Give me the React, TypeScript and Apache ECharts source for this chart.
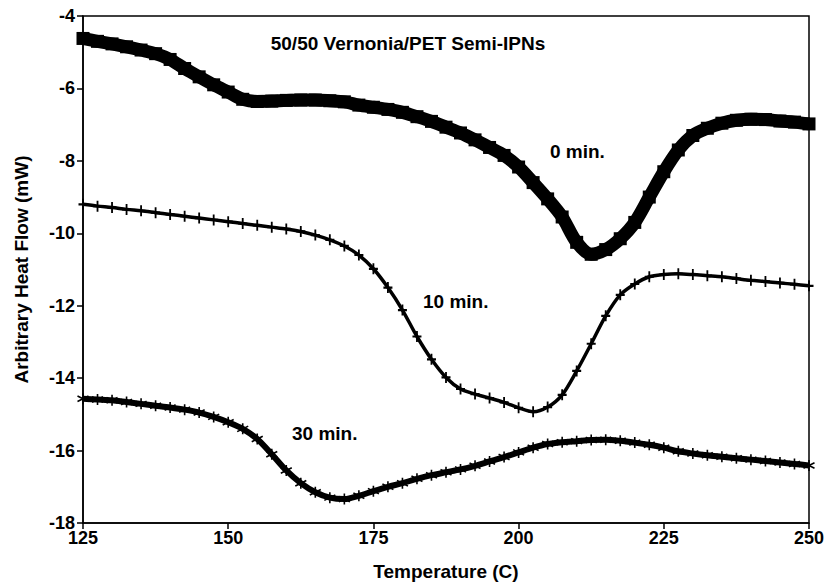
import React, { useEffect, useRef } from "react";
import * as echarts from "echarts";

// Temperature grid, °C (2.5 °C steps)
const temperatures: number[] = [];
for (let t = 125; t <= 250; t += 2.5) temperatures.push(t);

// Heat flow (mW) after 0, 10 and 30 min of cure
const flow0min = [
  -4.62, -4.70, -4.77, -4.85, -4.94, -5.04, -5.20, -5.45, -5.68, -5.90,
  -6.10, -6.30, -6.36, -6.35, -6.33, -6.32, -6.32, -6.34, -6.37, -6.46,
  -6.52, -6.58, -6.66, -6.78, -6.91, -7.07, -7.23, -7.42, -7.63, -7.85,
  -8.17, -8.60, -9.05, -9.55, -10.25, -10.58, -10.45, -10.15, -9.70, -9.00,
  -8.30, -7.70, -7.30, -7.10, -6.96, -6.88, -6.85, -6.86, -6.90, -6.93,
  -6.98,
];
const flow10min = [
  -9.20, -9.25, -9.29, -9.34, -9.38, -9.43, -9.48, -9.53, -9.58, -9.63,
  -9.68, -9.73, -9.78, -9.83, -9.88, -9.95, -10.05, -10.18, -10.35, -10.60,
  -10.98, -11.50, -12.12, -12.85, -13.48, -13.98, -14.30, -14.44, -14.55, -14.67,
  -14.82, -14.93, -14.80, -14.46, -13.80, -13.05, -12.28, -11.70, -11.40, -11.20,
  -11.14, -11.12, -11.14, -11.17, -11.20, -11.25, -11.30, -11.33, -11.37, -11.41,
  -11.45,
];
const flow30min = [
  -14.57, -14.59, -14.61, -14.66, -14.71, -14.76, -14.81, -14.87, -14.95, -15.07,
  -15.22, -15.40, -15.68, -16.10, -16.55, -16.90, -17.15, -17.30, -17.34, -17.25,
  -17.12, -17.00, -16.90, -16.78, -16.68, -16.60, -16.52, -16.42, -16.30, -16.18,
  -16.05, -15.92, -15.82, -15.77, -15.74, -15.71, -15.70, -15.73, -15.78, -15.84,
  -15.92, -16.02, -16.08, -16.13, -16.17, -16.21, -16.25, -16.29, -16.33, -16.37,
  -16.41,
];

const xTicks = { min: 125, max: 250, interval: 25 };
const yTicks = { min: -18, max: -4, interval: 2 };

const FONT = "'Liberation Sans', Arial, sans-serif";

const pairs = (ys: number[]) => temperatures.map((t, i) => [t, ys[i]]);

export default function App() {
  const ref = useRef<HTMLDivElement>(null);

  useEffect(() => {
    if (!ref.current) return;
    const chart = echarts.init(ref.current, undefined, { renderer: "svg" });

    const axisCommon = {
      axisLine: { lineStyle: { color: "#000", width: 1.5 } },
      axisTick: { show: true, inside: false, length: 6, lineStyle: { color: "#000", width: 1.5 } },
      splitLine: { show: false },
      axisLabel: { color: "#000", fontSize: 18, fontFamily: FONT, fontWeight: "bold" as const },
      nameTextStyle: { color: "#000", fontSize: 19, fontFamily: FONT, fontWeight: "bold" as const },
    };

    chart.setOption({
      animation: false,
      backgroundColor: "#fff",
      grid: {
        left: 83,
        top: 16,
        right: 19,
        bottom: 59,
        show: true,
        borderColor: "#000",
        borderWidth: 1.5,
        containLabel: false,
      },
      xAxis: {
        type: "value",
        ...xTicks,
        ...axisCommon,
        axisLabel: { ...axisCommon.axisLabel, margin: 6 },
        name: "Temperature (C)",
        nameLocation: "middle",
        nameGap: 39,
      },
      yAxis: {
        type: "value",
        ...yTicks,
        ...axisCommon,
        axisLabel: { ...axisCommon.axisLabel, margin: 8 },
        name: "Arbitrary Heat Flow (mW)",
        nameLocation: "middle",
        nameGap: 52,
      },
      series: [
        {
          name: "0 min.",
          type: "line",
          data: pairs(flow0min),
          smooth: 0.3,
          lineStyle: { color: "#000", width: 13 },
          symbol: "rect",
          symbolSize: 13,
          itemStyle: { color: "#000" },
        },
        {
          name: "10 min.",
          type: "line",
          data: pairs(flow10min),
          smooth: 0.3,
          lineStyle: { color: "#000", width: 3.5 },
          symbol: "path://M5,0L5,10M0,5L10,5",
          symbolSize: [9, 11],
          itemStyle: { color: "#000", borderColor: "#000", borderWidth: 2 },
        },
        {
          name: "30 min.",
          type: "line",
          data: pairs(flow30min),
          smooth: 0.3,
          lineStyle: { color: "#000", width: 6 },
          symbol: "path://M5,0L5,10M0.7,2.5L9.3,7.5M0.7,7.5L9.3,2.5",
          symbolSize: 11,
          itemStyle: { color: "#000", borderColor: "#000", borderWidth: 1.6 },
        },
      ],
      graphic: [
        {
          type: "text",
          x: 408,
          y: 43,
          style: {
            text: "50/50 Vernonia/PET Semi-IPNs",
            font: `bold 19px ${FONT}`,
            fill: "#000",
            textAlign: "center",
            textVerticalAlign: "middle",
          },
        },
        {
          type: "text",
          x: 550,
          y: 151,
          style: { text: "0 min.", font: `bold 19px ${FONT}`, fill: "#000", textAlign: "left", textVerticalAlign: "middle" },
        },
        {
          type: "text",
          x: 423,
          y: 301,
          style: { text: "10 min.", font: `bold 19px ${FONT}`, fill: "#000", textAlign: "left", textVerticalAlign: "middle" },
        },
        {
          type: "text",
          x: 292,
          y: 433,
          style: { text: "30 min.", font: `bold 19px ${FONT}`, fill: "#000", textAlign: "left", textVerticalAlign: "middle" },
        },
      ],
    });

    return () => chart.dispose();
  }, []);

  return (
    <div
      ref={ref}
      style={{ position: "absolute", left: 0, top: 0, width: 828, height: 586, background: "#fff" }}
    />
  );
}
